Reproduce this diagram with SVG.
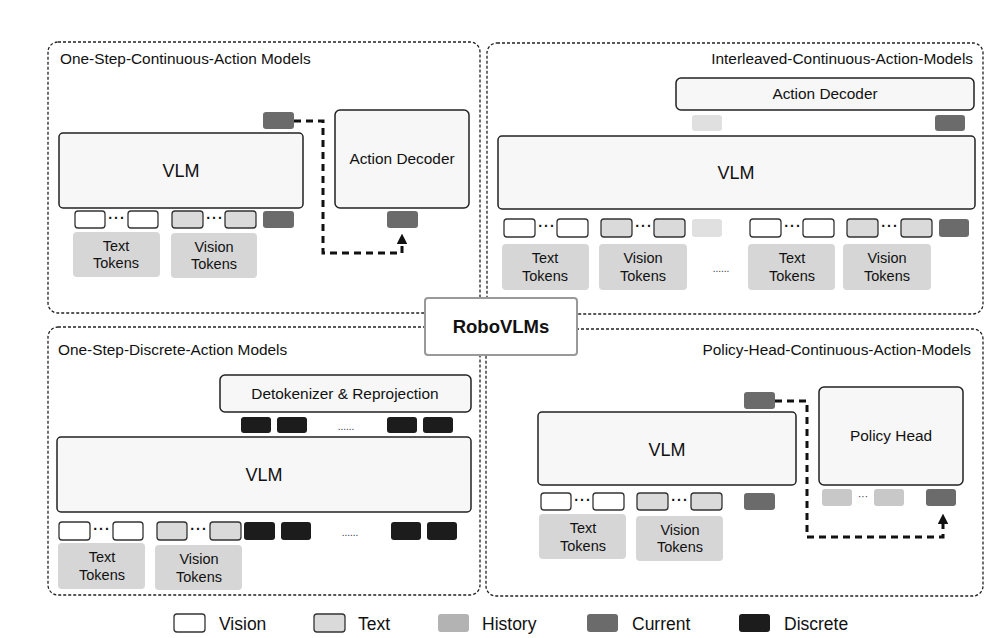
<svg xmlns="http://www.w3.org/2000/svg" width="998" height="638" viewBox="0 0 998 638">
<defs>
<style>
text{font-family:"Liberation Sans",Arial,sans-serif;fill:#111}
.panel{fill:none;stroke:#222;stroke-width:1.3;stroke-dasharray:3 2}
.box{fill:#f7f7f7;stroke:#222;stroke-width:1.5}
.vis{fill:#fff;stroke:#333;stroke-width:1.3}
.txt{fill:#dadada;stroke:#333;stroke-width:1.3}
.hist{fill:#c8c8c8}
.histl{fill:#e0e0e0}
.cur{fill:#6b6b6b}
.disc{fill:#1c1c1c}
.lab{fill:#d6d6d6}
.t15{font-size:15.4px}
.t14{font-size:14.5px;text-anchor:middle}
.vlm{font-size:18px;text-anchor:middle}
.mid{text-anchor:middle}
.dots{font-size:14px;font-weight:bold;text-anchor:middle;letter-spacing:1.2px}
.ell{font-size:10px;text-anchor:middle;fill:#334}
.conn{fill:none;stroke:#111;stroke-width:3;stroke-dasharray:7 5}
.leg{font-size:17.5px}
</style>
<marker id="arr" viewBox="0 0 10 10" refX="5" refY="5" markerWidth="3.6" markerHeight="3.6" orient="auto">
<path d="M0,0 L10,5 L0,10 z" fill="#111"/>
</marker>
</defs>
<rect width="998" height="638" fill="#fff"/>

<!-- Panel 1 -->
<g id="panel-one-step-continuous">
<rect class="panel" x="48" y="42" width="432" height="271" rx="10"/>
<text class="t15" x="60" y="64">One-Step-Continuous-Action Models</text>
</g>
<g id="p1-vlm"><rect class="box" x="59" y="133" width="244" height="75" rx="4"/><text class="vlm" x="181" y="177">VLM</text></g>
<g id="p1-out-token"><rect class="cur" x="263" y="112" width="31" height="17" rx="3"/></g>
<g id="p1-action-decoder"><rect class="box" x="335" y="110" width="134" height="98" rx="5"/><text class="t15 mid" x="402" y="164">Action Decoder</text></g>
<g id="p1-ad-token"><rect class="cur" x="387" y="211" width="31" height="17" rx="3"/></g>
<g id="p1-inputs">
<rect class="vis" x="75" y="211" width="30" height="17" rx="3"/>
<text class="dots" x="117" y="223">···</text>
<rect class="vis" x="128" y="211" width="30" height="17" rx="3"/>
<rect class="txt" x="172" y="211" width="31" height="17" rx="3"/>
<text class="dots" x="215" y="223">···</text>
<rect class="txt" x="225" y="211" width="31" height="17" rx="3"/>
<rect class="cur" x="263" y="211" width="31" height="17" rx="3"/>
</g>
<g id="p1-text-tokens"><rect class="lab" x="73" y="232" width="87" height="45" rx="4"/><text class="t14" x="116" y="251">Text</text><text class="t14" x="116" y="268">Tokens</text></g>
<g id="p1-vision-tokens"><rect class="lab" x="171" y="233" width="86" height="45" rx="4"/><text class="t14" x="214" y="252">Vision</text><text class="t14" x="214" y="269">Tokens</text></g>

<!-- Panel 2 -->
<g id="panel-interleaved">
<rect class="panel" x="487" y="43" width="496" height="271" rx="10"/>
<text class="t15" x="973" y="64" text-anchor="end">Interleaved-Continuous-Action-Models</text>
</g>
<g id="p2-action-decoder"><rect class="box" x="676" y="78" width="298" height="32" rx="5"/><text class="t15 mid" x="825" y="99">Action Decoder</text></g>
<g id="p2-out-tokens">
<rect class="histl" x="692" y="115" width="30" height="16" rx="3"/>
<rect class="cur" x="935" y="115" width="30" height="16" rx="3"/>
</g>
<g id="p2-vlm"><rect class="box" x="498" y="136" width="477" height="73" rx="4"/><text class="vlm" x="736" y="179">VLM</text></g>
<g id="p2-inputs">
<rect class="vis" x="504" y="219" width="31" height="18" rx="3"/>
<text class="dots" x="547" y="231">···</text>
<rect class="vis" x="557" y="219" width="31" height="18" rx="3"/>
<rect class="txt" x="601" y="219" width="31" height="18" rx="3"/>
<text class="dots" x="644" y="231">···</text>
<rect class="txt" x="654" y="219" width="31" height="18" rx="3"/>
<rect class="histl" x="692" y="219" width="30" height="18" rx="3"/>
<rect class="vis" x="750" y="219" width="31" height="18" rx="3"/>
<text class="dots" x="793" y="231">···</text>
<rect class="vis" x="803" y="219" width="31" height="18" rx="3"/>
<rect class="txt" x="847" y="219" width="31" height="18" rx="3"/>
<text class="dots" x="890" y="231">···</text>
<rect class="txt" x="901" y="219" width="31" height="18" rx="3"/>
<rect class="cur" x="939" y="219" width="30" height="18" rx="3"/>
</g>
<g id="p2-text-tokens-1"><rect class="lab" x="502" y="244" width="87" height="46" rx="4"/><text class="t14" x="545" y="263">Text</text><text class="t14" x="545" y="281">Tokens</text></g>
<g id="p2-vision-tokens-1"><rect class="lab" x="599" y="244" width="88" height="46" rx="4"/><text class="t14" x="643" y="263">Vision</text><text class="t14" x="643" y="281">Tokens</text></g>
<text class="ell" x="721" y="272">......</text>
<g id="p2-text-tokens-2"><rect class="lab" x="748" y="244" width="87" height="46" rx="4"/><text class="t14" x="792" y="263">Text</text><text class="t14" x="792" y="281">Tokens</text></g>
<g id="p2-vision-tokens-2"><rect class="lab" x="843" y="244" width="88" height="46" rx="4"/><text class="t14" x="887" y="263">Vision</text><text class="t14" x="887" y="281">Tokens</text></g>

<!-- Panel 3 -->
<g id="panel-one-step-discrete">
<rect class="panel" x="48" y="327" width="432" height="268" rx="10"/>
<text class="t15" x="58" y="355">One-Step-Discrete-Action Models</text>
</g>
<g id="p3-detokenizer"><rect class="box" x="220" y="375" width="251" height="37" rx="5"/><text class="t15 mid" x="345" y="399">Detokenizer &amp; Reprojection</text></g>
<g id="p3-out-tokens">
<rect class="disc" x="241" y="417" width="30" height="16" rx="3"/>
<rect class="disc" x="277" y="417" width="30" height="16" rx="3"/>
<text class="ell" x="346" y="430">......</text>
<rect class="disc" x="387" y="417" width="30" height="16" rx="3"/>
<rect class="disc" x="423" y="417" width="30" height="16" rx="3"/>
</g>
<g id="p3-vlm"><rect class="box" x="57" y="437" width="414" height="75" rx="4"/><text class="vlm" x="264" y="481">VLM</text></g>
<g id="p3-inputs">
<rect class="vis" x="59" y="522" width="31" height="18" rx="3"/>
<text class="dots" x="102" y="534">···</text>
<rect class="vis" x="113" y="522" width="30" height="18" rx="3"/>
<rect class="txt" x="157" y="522" width="30" height="18" rx="3"/>
<text class="dots" x="199" y="534">···</text>
<rect class="txt" x="210" y="522" width="31" height="18" rx="3"/>
<rect class="disc" x="244" y="522" width="31" height="18" rx="3"/>
<rect class="disc" x="281" y="522" width="30" height="18" rx="3"/>
<text class="ell" x="350" y="536">......</text>
<rect class="disc" x="391" y="522" width="30" height="18" rx="3"/>
<rect class="disc" x="427" y="522" width="30" height="18" rx="3"/>
</g>
<g id="p3-text-tokens"><rect class="lab" x="58" y="543" width="87" height="46" rx="4"/><text class="t14" x="102" y="562">Text</text><text class="t14" x="102" y="580">Tokens</text></g>
<g id="p3-vision-tokens"><rect class="lab" x="155" y="545" width="87" height="45" rx="4"/><text class="t14" x="199" y="564">Vision</text><text class="t14" x="199" y="582">Tokens</text></g>

<!-- Panel 4 -->
<g id="panel-policy-head">
<rect class="panel" x="486" y="329" width="497" height="267" rx="10"/>
<text class="t15" x="971" y="355" text-anchor="end">Policy-Head-Continuous-Action-Models</text>
</g>
<g id="p4-out-token"><rect class="cur" x="744" y="392" width="31" height="17" rx="3"/></g>
<g id="p4-vlm"><rect class="box" x="538" y="412" width="258" height="73" rx="4"/><text class="vlm" x="667" y="456">VLM</text></g>
<g id="p4-policy-head"><rect class="box" x="819" y="387" width="144" height="98" rx="5"/><text class="t15 mid" x="891" y="441">Policy Head</text></g>
<g id="p4-ph-tokens">
<rect class="hist" x="822" y="489" width="30" height="17" rx="3"/>
<text class="ell" x="863" y="500">···</text>
<rect class="hist" x="874" y="489" width="30" height="17" rx="3"/>
<rect class="cur" x="926" y="489" width="30" height="17" rx="3"/>
</g>
<g id="p4-inputs">
<rect class="vis" x="541" y="493" width="30" height="17" rx="3"/>
<text class="dots" x="583" y="505">···</text>
<rect class="vis" x="593" y="493" width="31" height="17" rx="3"/>
<rect class="txt" x="637" y="493" width="31" height="17" rx="3"/>
<text class="dots" x="680" y="505">···</text>
<rect class="txt" x="691" y="493" width="31" height="17" rx="3"/>
<rect class="cur" x="744" y="493" width="31" height="17" rx="3"/>
</g>
<g id="p4-text-tokens"><rect class="lab" x="539" y="514" width="87" height="45" rx="4"/><text class="t14" x="583" y="533">Text</text><text class="t14" x="583" y="551">Tokens</text></g>
<g id="p4-vision-tokens"><rect class="lab" x="636" y="516" width="87" height="45" rx="4"/><text class="t14" x="680" y="535">Vision</text><text class="t14" x="680" y="552">Tokens</text></g>

<!-- Connectors -->
<g id="connectors">
<path class="conn" d="M294,121 H323 V253 H402 V239" marker-end="url(#arr)"/>
<path class="conn" d="M775,401 H807 V537 H943 V519" marker-end="url(#arr)"/>
</g>

<!-- Center title -->
<g id="robovlms">
<rect x="425" y="298" width="152" height="57" rx="3" fill="#fff" stroke="#999" stroke-width="2"/>
<text x="501" y="333" class="mid" font-size="18.5" font-weight="bold">RoboVLMs</text>
</g>

<!-- Legend -->
<g id="legend">
<rect class="vis" x="174" y="614" width="31" height="18" rx="3"/><text class="leg" x="219" y="630">Vision</text>
<rect class="txt" x="314" y="614" width="31" height="18" rx="3"/><text class="leg" x="358" y="630">Text</text>
<rect fill="#b3b3b3" x="438" y="614" width="31" height="18" rx="3"/><text class="leg" x="482" y="630">History</text>
<rect class="cur" x="587" y="614" width="31" height="18" rx="3"/><text class="leg" x="632" y="630">Current</text>
<rect class="disc" x="739" y="614" width="31" height="18" rx="3"/><text class="leg" x="784" y="630">Discrete</text>
</g>
</svg>
